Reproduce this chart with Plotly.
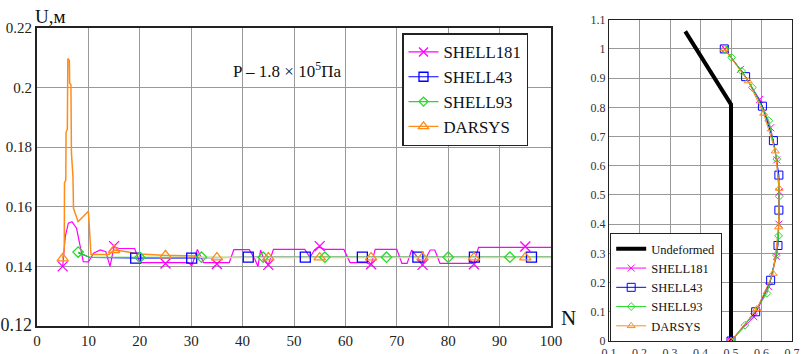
import plotly.graph_objects as go

# ---------------- Left chart data: U (m) vs N ----------------
N_181 = [5, 5.5, 6.1, 6.8, 7.7, 8.4, 9.0, 10, 11, 12.3, 13.4, 14.2, 15, 16, 19, 20,
         25, 29.5, 30.1, 31.2, 32.4, 35, 37.4, 38.3, 41.3, 42.3, 43, 43.5, 44, 45,
         46, 52.1, 53.1, 54, 54.7, 56, 59.7, 60.9, 64, 65, 65.8, 70, 71, 72, 72.9,
         73.6, 75, 76.5, 77.4, 78.4, 85, 85.9, 95, 100]
U_181 = [0.1400, 0.1500, 0.1545, 0.1550, 0.1528, 0.1466, 0.1416, 0.1415, 0.1444,
         0.1455, 0.1449, 0.1400, 0.1466, 0.1460, 0.1460, 0.1413, 0.1413, 0.1413,
         0.1402, 0.1457, 0.1413, 0.1413, 0.1413, 0.1456, 0.1456, 0.1427, 0.1400,
         0.1455, 0.1430, 0.1405, 0.1457, 0.1457, 0.1430, 0.1455, 0.1465, 0.1457,
         0.1457, 0.1413, 0.1413, 0.1405, 0.1457, 0.1457, 0.1410, 0.1410, 0.1455,
         0.1440, 0.1405, 0.1455, 0.1455, 0.1410, 0.1410, 0.1464, 0.1464, 0.1464]
N_181_MK = [5, 15, 25, 35, 45, 55, 65, 75, 85, 95]
U_181_MK = [0.1400, 0.1468, 0.1410, 0.1408, 0.1405, 0.1468, 0.1407, 0.1405, 0.1407, 0.1467]

N_43 = [8, 10.3, 19.2, 30.1, 41.1, 52.2, 63.3, 74.1, 85.1, 96.2, 100]
U_43 = [0.1446, 0.1430, 0.1428, 0.1428, 0.1431, 0.1431, 0.1431, 0.1431, 0.1431, 0.1431, 0.1431]
N_43_MK = [19.2, 30.1, 41.1, 52.2, 63.3, 74.1, 85.1, 96.2]
U_43_MK = [0.1428, 0.1428, 0.1431, 0.1431, 0.1431, 0.1431, 0.1431, 0.1431]

N_93 = [8, 10.3, 20, 32, 44, 56, 68, 80, 92, 100]
U_93 = [0.1448, 0.1430, 0.1430, 0.1431, 0.1431, 0.1431, 0.1431, 0.1431, 0.1431, 0.1431]
N_93_MK = [8, 20, 32, 44, 56, 68, 80, 92]
U_93_MK = [0.1448, 0.1430, 0.1431, 0.1431, 0.1431, 0.1431, 0.1431, 0.1431]

N_DAR = [5.0, 5.3, 5.35, 5.6, 5.65, 5.9, 6.0, 6.3, 6.35, 6.6, 6.7, 7.0, 7.1, 8.0,
         10.0, 10.5, 14.0, 15.0, 16.5, 20.0, 24.5, 31.3, 32, 100]
U_DAR = [0.1427, 0.1460, 0.1680, 0.1690, 0.1850, 0.1860, 0.2098, 0.2090, 0.2015,
         0.2010, 0.1780, 0.1700, 0.1595, 0.1550, 0.1585, 0.1440, 0.1440, 0.1455,
         0.1452, 0.1442, 0.1437, 0.1435, 0.1430, 0.1430]
N_DAR_MK = [5, 15, 25, 35, 45, 55, 65, 75, 85, 95]
U_DAR_MK = [0.1427, 0.1455, 0.1437, 0.1430, 0.1430, 0.1430, 0.1430, 0.1430, 0.1430, 0.1430]

Y_TICKS = [0.12, 0.14, 0.16, 0.18, 0.20, 0.22]
Y_TICK_LABELS = ["0.12", "0.14", "0.16", "0.18", "0.2", "0.22"]

# ---------------- Right chart data: shape profile ----------------
X_UND = [0.5, 0.5, 0.35]
Y_UND = [0.0, 0.81, 1.06]

X_R181 = [0.48, 0.531, 0.594, 0.630, 0.650, 0.658, 0.657, 0.649, 0.624, 0.575, 0.50]
Y_R181 = [1.0, 0.93, 0.827, 0.73, 0.62, 0.511, 0.40, 0.29, 0.186, 0.083, 0.0]
X_R43 = [0.478, 0.548, 0.603, 0.639, 0.657, 0.657, 0.654, 0.630, 0.581, 0.50]
Y_R43 = [1.0, 0.905, 0.804, 0.686, 0.568, 0.448, 0.327, 0.208, 0.10, 0.0]
X_R93 = [0.48, 0.502, 0.535, 0.570, 0.624, 0.650, 0.658, 0.656, 0.649, 0.618, 0.546, 0.50]
Y_R93 = [1.0, 0.971, 0.924, 0.868, 0.754, 0.623, 0.495, 0.36, 0.294, 0.163, 0.054, 0.0]
X_RDAR = [0.478, 0.556, 0.607, 0.645, 0.658, 0.656, 0.638, 0.585, 0.50]
Y_RDAR = [1.0, 0.89, 0.779, 0.65, 0.522, 0.39, 0.231, 0.11, 0.0]

NAMES = ["SHELL181", "SHELL43", "SHELL93", "DARSYS"]
COLORS = ["#ff00ff", "#0000ff", "#22dd22", "#ff8c1a"]
SYMBOLS = ["x-thin-open", "square-open", "diamond-open", "triangle-up-open"]
LSIZES = [10, 10, 8, 10]
RSIZES = [7, 8, 6, 7]

FONT = "Liberation Serif, Times New Roman, DejaVu Serif, serif"

fig = go.Figure()

left_lines = [(N_181, U_181), (N_43, U_43), (N_93, U_93)]
lwidths = [1.2, 1.0, 1.2]
for (xs, ys), c, w in zip(left_lines, COLORS, lwidths):
    fig.add_trace(go.Scatter(x=xs, y=ys, mode="lines", line=dict(color=c, width=w),
                             showlegend=False, xaxis="x", yaxis="y"))
# DARSYS: lighter flat tail, vivid head
TAIL = 21
fig.add_trace(go.Scatter(x=N_DAR[TAIL:], y=U_DAR[TAIL:], mode="lines",
                         line=dict(color="#ffc58a", width=1.5),
                         showlegend=False, xaxis="x", yaxis="y"))
fig.add_trace(go.Scatter(x=N_DAR[:TAIL + 1], y=U_DAR[:TAIL + 1], mode="lines",
                         line=dict(color=COLORS[3], width=1.5),
                         showlegend=False, xaxis="x", yaxis="y"))

left_marks = [(N_181_MK, U_181_MK), (N_43_MK, U_43_MK), (N_93_MK, U_93_MK), (N_DAR_MK, U_DAR_MK)]
for (xs, ys), c, s, sz in zip(left_marks, COLORS, SYMBOLS, LSIZES):
    fig.add_trace(go.Scatter(x=xs, y=ys, mode="markers",
                             marker=dict(color=c, symbol=s, size=sz, line=dict(color=c, width=1.3)),
                             showlegend=False, xaxis="x", yaxis="y"))
for name, c, s, sz in zip(NAMES, COLORS, SYMBOLS, LSIZES):
    fig.add_trace(go.Scatter(x=[None], y=[None], mode="lines+markers", name=name,
                             line=dict(color=c, width=1.2),
                             marker=dict(color=c, symbol=s, size=sz - 1, line=dict(color=c, width=1.3)),
                             legend="legend", xaxis="x", yaxis="y"))

# Right chart
fig.add_trace(go.Scatter(x=X_UND, y=Y_UND, mode="lines", name="Undeformed",
                         line=dict(color="black", width=4), legend="legend2",
                         xaxis="x2", yaxis="y2"))
right = [(X_R181, Y_R181), (X_R43, Y_R43), (X_R93, Y_R93), (X_RDAR, Y_RDAR)]
for (xs, ys), name, c, s, sz in zip(right, NAMES, COLORS, SYMBOLS, RSIZES):
    fig.add_trace(go.Scatter(x=xs, y=ys, mode="lines+markers", name=name,
                             line=dict(color=c, width=1),
                             marker=dict(color=c, symbol=s, size=sz, line=dict(color=c, width=1)),
                             legend="legend2", xaxis="x2", yaxis="y2"))

W, H = 801, 354
axis_common = dict(showgrid=True, gridcolor="#999999", gridwidth=1, zeroline=False,
                   showline=True, linecolor="#222222", mirror=True, ticks="",
                   automargin=False)
lt = dict(family=FONT, size=15, color="#222222")
rt = dict(family=FONT, size=12, color="#333333")

y_text = ["<span style='font-size:18px'>%s</span>" % t if i == 0 else t
          for i, t in enumerate(Y_TICK_LABELS)]

fig.update_layout(
    width=W, height=H, margin=dict(l=0, r=0, t=0, b=0, pad=0, autoexpand=False),
    paper_bgcolor="white", plot_bgcolor="white",
    font=dict(family=FONT, color="#111111"),
    xaxis=dict(domain=[37 / W, 551 / W], range=[0, 100], dtick=10, anchor="y",
               linewidth=2, tickfont=lt, **axis_common),
    yaxis=dict(domain=[1 - 326 / H, 1 - 28 / H], range=[0.12, 0.22], anchor="x",
               tickmode="array", tickvals=Y_TICKS, ticktext=y_text,
               linewidth=2, tickfont=lt, **axis_common),
    xaxis2=dict(domain=[609 / W, 792 / W], range=[0.1, 0.7], dtick=0.1, anchor="y2",
                linewidth=1.2, tickfont=rt, **axis_common),
    yaxis2=dict(domain=[1 - 341 / H, 1 - 19.7 / H], range=[0, 1.1], dtick=0.1, anchor="x2",
                linewidth=1.2, tickfont=rt, **axis_common),
    legend=dict(x=402 / W, y=1 - 33 / H, xanchor="left", yanchor="top",
                bgcolor="white", bordercolor="#222222", borderwidth=1.5,
                font=dict(family=FONT, size=16.8, color="#111111"), tracegroupgap=0),
    legend2=dict(x=610 / W, y=1 - 233 / H, xanchor="left", yanchor="top",
                 bgcolor="white", bordercolor="#222222", borderwidth=1.2,
                 font=dict(family=FONT, size=12.5, color="#111111"), tracegroupgap=0),
    annotations=[
        dict(text="P – 1.8 × 10<sup>5</sup>Па", x=48.6, y=0.2059, xref="x", yref="y",
             showarrow=False, font=dict(family=FONT, size=17, color="#111111")),
        dict(text="U,м", x=33 / W, y=1 - 16 / H, xref="paper", yref="paper",
             xanchor="left", yanchor="middle", showarrow=False,
             font=dict(family=FONT, size=19, color="#111111")),
        dict(text="N", x=568 / W, y=1 - 318 / H, xref="paper", yref="paper",
             xanchor="center", yanchor="middle", showarrow=False,
             font=dict(family=FONT, size=21, color="#111111")),
    ],
)

fig.write_html("out.html")
